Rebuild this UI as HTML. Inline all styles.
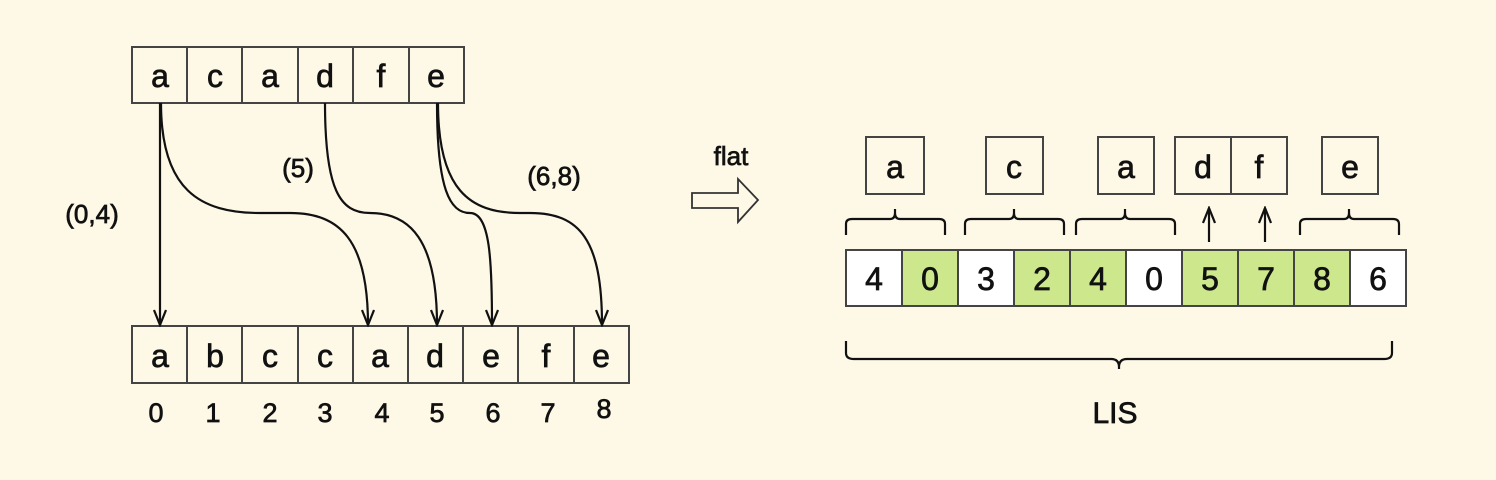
<!DOCTYPE html>
<html><head><meta charset="utf-8"><style>
html,body{margin:0;padding:0;background:#fef8e7;}
svg{display:block}
text{font-family:"Liberation Sans",sans-serif;fill:#111;stroke:#111;stroke-width:0.7;}
</style></head><body>
<svg width="1496" height="480" viewBox="0 0 1496 480" xmlns="http://www.w3.org/2000/svg">
<rect width="1496" height="480" fill="#fef8e7"/>
<defs><marker id="ah" markerWidth="18" markerHeight="14" refX="16" refY="7" orient="auto" markerUnits="userSpaceOnUse"><path d="M1,1 L16,7 L1,13" fill="none" stroke="#111" stroke-width="2.2"/></marker></defs>
<g stroke="#444" stroke-width="2" fill="none">
<rect x="132" y="47" width="332" height="56"/>
<line x1="187" y1="47" x2="187" y2="103"/><line x1="242" y1="47" x2="242" y2="103"/><line x1="298" y1="47" x2="298" y2="103"/><line x1="353" y1="47" x2="353" y2="103"/><line x1="409" y1="47" x2="409" y2="103"/>
<rect x="132" y="326" width="497" height="57"/>
<line x1="187" y1="326" x2="187" y2="383"/><line x1="242" y1="326" x2="242" y2="383"/><line x1="298" y1="326" x2="298" y2="383"/><line x1="353" y1="326" x2="353" y2="383"/><line x1="408" y1="326" x2="408" y2="383"/><line x1="463" y1="326" x2="463" y2="383"/><line x1="518" y1="326" x2="518" y2="383"/><line x1="574" y1="326" x2="574" y2="383"/>
</g>
<g font-size="32" text-anchor="middle">
<text x="160" y="87">a</text><text x="215" y="87">c</text><text x="270" y="87">a</text><text x="325" y="87">d</text><text x="381" y="87">f</text><text x="436" y="87">e</text>
<text x="160" y="367">a</text><text x="215" y="367">b</text><text x="270" y="367">c</text><text x="325" y="367">c</text><text x="380" y="367">a</text><text x="435" y="367">d</text><text x="491" y="367">e</text><text x="546" y="367">f</text><text x="601" y="367">e</text>
</g>
<g font-size="27" text-anchor="middle">
<text x="156" y="422">0</text><text x="213" y="422">1</text><text x="270" y="422">2</text><text x="325" y="422">3</text><text x="382" y="422">4</text><text x="437" y="422">5</text><text x="493" y="422">6</text><text x="548" y="422">7</text><text x="604" y="418">8</text>
</g>
<g font-size="26" text-anchor="middle">
<text x="92" y="223">(0,4)</text><text x="298" y="177">(5)</text><text x="554" y="185">(6,8)</text>
</g>
<g stroke="#111" stroke-width="2.2" fill="none">
<line x1="160" y1="103" x2="160" y2="325" marker-end="url(#ah)"/>
<path d="M161,103 C161,190 200,213 260,213 L290,213 C340,213 368,240 368,325" marker-end="url(#ah)"/>
<path d="M325,103 C325,190 340,213 370,213 C410,213 437,240 437,325" marker-end="url(#ah)"/>
<path d="M437,103 C437,190 450,213 470,213 C490,213 492,260 492,325" marker-end="url(#ah)"/>
<path d="M438,103 C438,190 470,213 520,213 L530,213 C580,213 602,240 602,325" marker-end="url(#ah)"/>
</g>
<text x="731" y="165" font-size="26" text-anchor="middle">flat</text>
<path d="M692,193 L738,193 L738,179 L758,200 L738,222 L738,208 L692,208 Z" fill="none" stroke="#333" stroke-width="1.8"/>
<g stroke="#444" stroke-width="2" fill="none">
<rect x="866" y="137" width="58" height="57"/><rect x="986" y="137" width="57" height="57"/><rect x="1098" y="137" width="56" height="57"/><rect x="1175" y="137" width="112" height="57"/><line x1="1231" y1="137" x2="1231" y2="194"/><rect x="1322" y="137" width="56" height="57"/>
</g>
<g font-size="32" text-anchor="middle">
<text x="895" y="178">a</text><text x="1014" y="178">c</text><text x="1126" y="178">a</text><text x="1203" y="178">d</text><text x="1259" y="178">f</text><text x="1350" y="178">e</text>
</g>
<g stroke="#111" stroke-width="2.2" fill="none">
<path d="M846,235 L846,224 Q846,219 852,219 L890,219 Q895,219 895,213 L895,209 M895,213 Q895,219 900,219 L939,219 Q945,219 945,224 L945,235"/>
<path d="M965,235 L965,224 Q965,219 971,219 L1009,219 Q1014,219 1014,213 L1014,209 M1014,213 Q1014,219 1019,219 L1058,219 Q1064,219 1064,224 L1064,235"/>
<path d="M1076,235 L1076,224 Q1076,219 1082,219 L1120,219 Q1125,219 1125,213 L1125,209 M1125,213 Q1125,219 1130,219 L1169,219 Q1175,219 1175,224 L1175,235"/>
<path d="M1300,235 L1300,224 Q1300,219 1306,219 L1344,219 Q1349,219 1349,213 L1349,209 M1349,213 Q1349,219 1354,219 L1393,219 Q1399,219 1399,224 L1399,235"/>
<path d="M846,341 L846,353 Q846,359 854,359 L1111,359 Q1119,359 1119,367 L1119,369 M1119,367 Q1119,359 1127,359 L1384,359 Q1392,359 1392,353 L1392,341"/>
<line x1="1209" y1="242" x2="1209" y2="208" marker-end="url(#ah)"/>
<line x1="1265" y1="242" x2="1265" y2="208" marker-end="url(#ah)"/>
</g>
<g stroke="#444" stroke-width="2">
<rect x="846" y="250" width="56" height="56" fill="#fff"/>
<rect x="902" y="250" width="56" height="56" fill="#cde88c"/>
<rect x="958" y="250" width="56" height="56" fill="#fff"/>
<rect x="1014" y="250" width="56" height="56" fill="#cde88c"/>
<rect x="1070" y="250" width="56" height="56" fill="#cde88c"/>
<rect x="1126" y="250" width="56" height="56" fill="#fff"/>
<rect x="1182" y="250" width="56" height="56" fill="#cde88c"/>
<rect x="1238" y="250" width="56" height="56" fill="#cde88c"/>
<rect x="1294" y="250" width="56" height="56" fill="#cde88c"/>
<rect x="1350" y="250" width="56" height="56" fill="#fff"/>
</g>
<g font-size="32" text-anchor="middle">
<text x="874" y="290">4</text><text x="930" y="290">0</text><text x="986" y="290">3</text><text x="1042" y="290">2</text><text x="1098" y="290">4</text><text x="1154" y="290">0</text><text x="1210" y="290">5</text><text x="1266" y="290">7</text><text x="1322" y="290">8</text><text x="1378" y="290">6</text>
</g>
<text x="1115" y="423" font-size="30" text-anchor="middle">LIS</text>
</svg>
</body></html>
